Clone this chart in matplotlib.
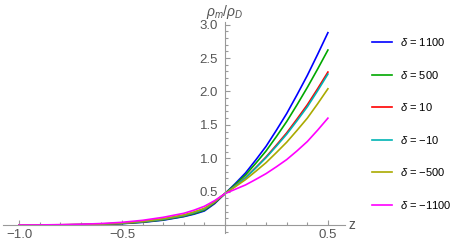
import numpy as np
import matplotlib
matplotlib.use("Agg")
import matplotlib.pyplot as plt
from matplotlib.ticker import MultipleLocator, FixedLocator

plt.rcParams["font.family"] = ["Liberation Sans", "DejaVu Sans"]
plt.rcParams["mathtext.fontset"] = "custom"
plt.rcParams["mathtext.rm"] = "Liberation Sans"
plt.rcParams["mathtext.it"] = "Liberation Sans:italic"

# redshift grid and curves
z = [-1.0, -0.9, -0.8, -0.7, -0.6, -0.5, -0.4, -0.3, -0.2, -0.15, -0.1, -0.05,
     0.0, 0.05, 0.1, 0.15, 0.2, 0.25, 0.3, 0.35, 0.4, 0.45, 0.5]

ratio_1100 = [0.0, 0.0, 0.001, 0.004, 0.009, 0.020, 0.040, 0.072, 0.125, 0.162, 0.21, 0.32,
              0.47, 0.62, 0.78, 0.975, 1.18, 1.42, 1.67, 1.95, 2.24, 2.555, 2.88]
ratio_500 = [0.0, 0.0, 0.001, 0.004, 0.010, 0.022, 0.043, 0.077, 0.130, 0.17, 0.22, 0.33,
             0.47, 0.607, 0.75, 0.925, 1.11, 1.325, 1.55, 1.80, 2.06, 2.335, 2.62]
ratio_10 = [0.0, 0.0, 0.002, 0.005, 0.012, 0.026, 0.048, 0.085, 0.140, 0.183, 0.235, 0.34,
            0.47, 0.587, 0.71, 0.862, 1.02, 1.197, 1.38, 1.587, 1.80, 2.04, 2.29]
ratio_m10 = [0.0, 0.0, 0.002, 0.005, 0.013, 0.027, 0.049, 0.086, 0.142, 0.185, 0.237, 0.345,
             0.47, 0.585, 0.705, 0.855, 1.01, 1.182, 1.36, 1.562, 1.77, 2.01, 2.26]
ratio_m500 = [0.0, 0.001, 0.003, 0.007, 0.015, 0.030, 0.055, 0.094, 0.152, 0.196, 0.25, 0.35,
              0.47, 0.572, 0.68, 0.805, 0.935, 1.085, 1.24, 1.417, 1.60, 1.815, 2.04]
ratio_m1100 = [0.0, 0.001, 0.005, 0.011, 0.022, 0.040, 0.070, 0.115, 0.175, 0.222, 0.28, 0.365,
               0.47, 0.535, 0.60, 0.683, 0.77, 0.872, 0.98, 1.11, 1.25, 1.42, 1.60]

labels = [r"$\delta$ = 1100", r"$\delta$ = 500", r"$\delta$ = 10",
          r"$\delta$ = $-$10", r"$\delta$ = $-$500", r"$\delta$ = $-$1100"]
colors = ["#0000ff", "#00a800", "#ff0000", "#00b4b4", "#aaaa00", "#ff00ff"]
series = [ratio_1100, ratio_500, ratio_10, ratio_m10, ratio_m500, ratio_m1100]

W, H = 467, 244
fig = plt.figure(figsize=(W / 100, H / 100), dpi=100)
ax = fig.add_axes([3 / W, 11 / H, (345 - 3) / W, (233 - 22) / H])

for vals, c, lab in zip(series, colors, labels):
    ax.plot(z, vals, color=c, lw=1.2, label=lab)

ax.set_xlim(-1.078, 0.583)
ax.set_ylim(-0.12, 3.04)

axis_col = "#999999"
text_col = "#555555"
for side in ["top", "right"]:
    ax.spines[side].set_visible(False)
for side in ["left", "bottom"]:
    ax.spines[side].set_position(("data", 0))
    ax.spines[side].set_color(axis_col)
    ax.spines[side].set_linewidth(0.8)

ax.xaxis.set_major_locator(FixedLocator([-1.0, -0.5, 0.5]))
ax.xaxis.set_minor_locator(MultipleLocator(0.1))
ax.yaxis.set_major_locator(FixedLocator([0.5, 1.0, 1.5, 2.0, 2.5, 3.0]))
ax.yaxis.set_minor_locator(MultipleLocator(0.1))
ax.xaxis.set_major_formatter(plt.FuncFormatter(lambda v, p: f"{v:.1f}".replace("-", "\u2212")))
ax.yaxis.set_major_formatter(plt.FuncFormatter(lambda v, p: f"{v:.1f}"))

ax.tick_params(which="both", direction="in", color=axis_col, width=0.8,
               labelcolor=text_col, labelsize=9.5)
ax.tick_params(which="major", length=3.5)
ax.tick_params(axis="y", which="major", pad=5)
ax.tick_params(axis="x", which="major", pad=3)
ax.tick_params(which="minor", length=2)

ax.text(0.0, 3.19, r"$\rho_m/\rho_D$", color=text_col, fontsize=10,
        ha="center", va="center", transform=ax.transData, clip_on=False)
ax.text(0.6, 0.0, "z", color=text_col, fontsize=10, ha="left", va="center",
        transform=ax.transData, clip_on=False)

fig.legend(loc="upper left", bbox_to_anchor=(372 / W, 1 - 36 / H),
           frameon=False, fontsize=8, labelspacing=1.85, handlelength=1.8,
           handletextpad=0.7, borderpad=0, borderaxespad=0)

fig.savefig("out.png", dpi=100)
